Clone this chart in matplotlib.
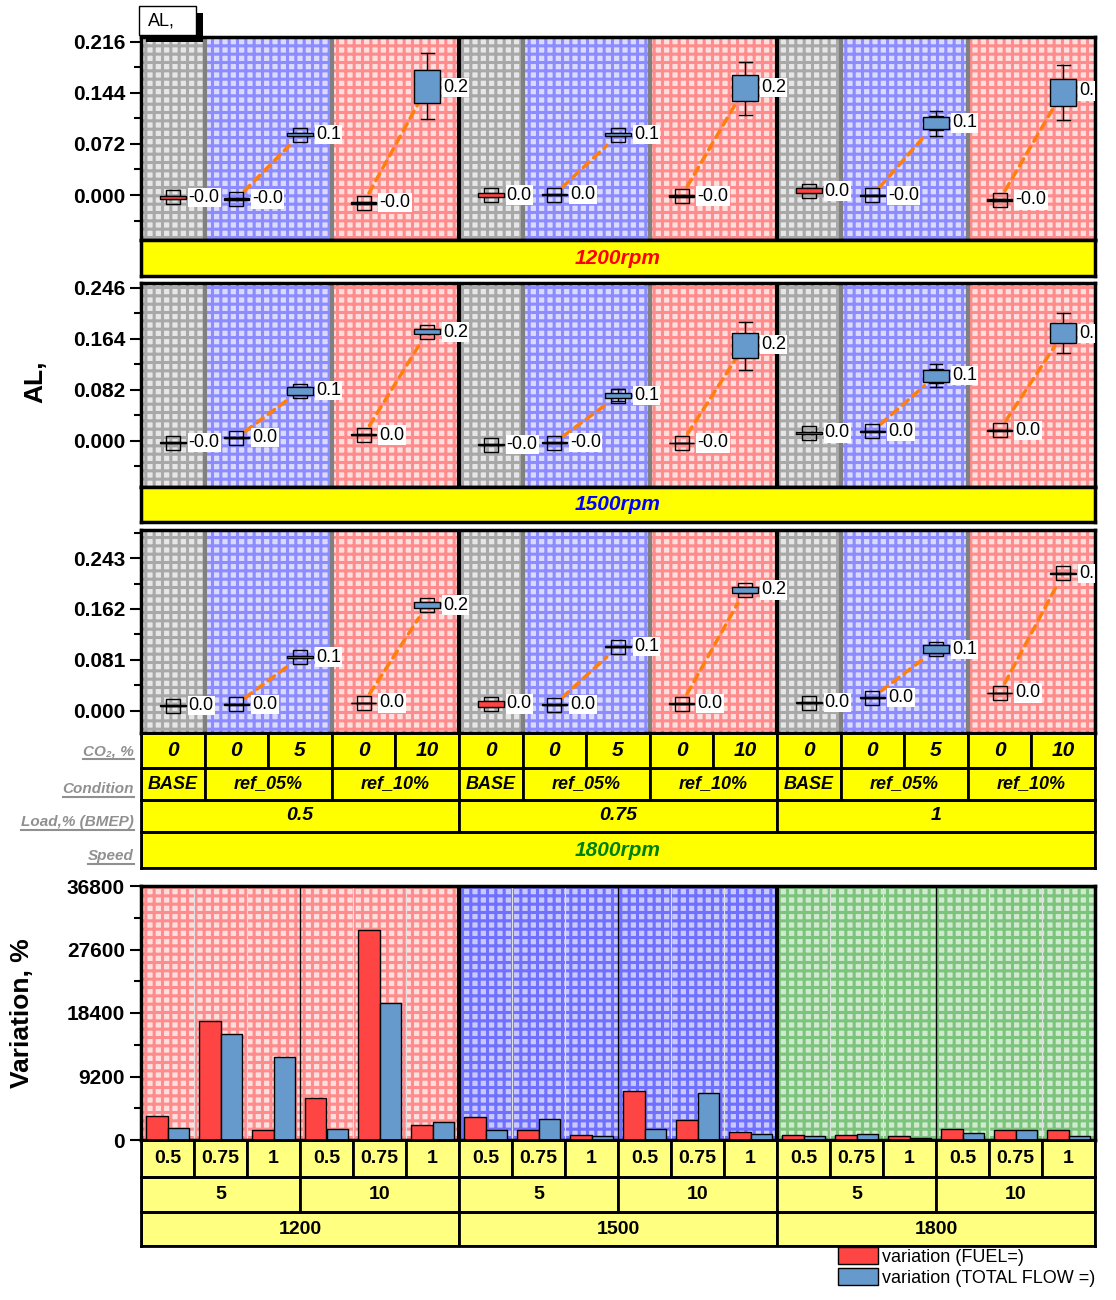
import numpy as np
import matplotlib.pyplot as plt
from matplotlib.patches import Rectangle, Patch
from matplotlib.lines import Line2D
from matplotlib.ticker import AutoMinorLocator

plt.rcParams['font.family'] = ['Liberation Sans', 'DejaVu Sans']
plt.rcParams['hatch.linewidth'] = 2.2

W, H = 1116, 1300

# categories
speeds = ['1200rpm', '1500rpm', '1800rpm']
speed_colors = ['#ff0000', '#0000ff', '#008000']
loads = ['0.5', '0.75', '1']
conditions = ['BASE', 'ref_05%', 'ref_10%']
cond_cols = [1, 2, 2]
co2_levels = ['0', '0', '5', '0', '10']

# AL, box stats: per speed, 3 loads x 5 columns
al_mean = [
    [-0.003, -0.0056, 0.085, -0.011, 0.152, 0.000, 0.0005, 0.085, -0.0015, 0.152, 0.0056, -0.0005, 0.1017, -0.007, 0.1468],
    [-0.003, 0.005, 0.081, 0.0096, 0.1752, -0.006, -0.0027, 0.0729, -0.0032, 0.1555, 0.0129, 0.0156, 0.105, 0.0172, 0.1732],
    [0.0084, 0.0106, 0.0857, 0.0127, 0.1683, 0.0111, 0.010, 0.1021, 0.0116, 0.1922, 0.0132, 0.0212, 0.098, 0.0286, 0.2186],
]
al_q1 = [
    [-0.005, -0.007, 0.083, -0.012, 0.130, -0.003, -0.0005, 0.083, -0.003, 0.133, 0.003, -0.0015, 0.093, -0.008, 0.1257],
    [-0.004, 0.004, 0.074, 0.009, 0.1716, -0.007, -0.0035, 0.0691, -0.004, 0.133, 0.012, 0.0145, 0.0954, 0.0165, 0.157],
    [0.0075, 0.0098, 0.0848, 0.012, 0.163, 0.0059, 0.0093, 0.101, 0.011, 0.1869, 0.0124, 0.0204, 0.0916, 0.028, 0.2176],
]
al_q3 = [
    [-0.001, -0.004, 0.087, -0.010, 0.1765, 0.003, 0.0015, 0.087, 0.000, 0.169, 0.0099, 0.0005, 0.110, -0.006, 0.1638],
    [-0.002, 0.006, 0.0868, 0.0105, 0.1796, -0.005, -0.002, 0.0772, -0.0025, 0.1732, 0.0138, 0.0165, 0.1142, 0.018, 0.1893],
    [0.0093, 0.0114, 0.0866, 0.0134, 0.1736, 0.0164, 0.0108, 0.1032, 0.0122, 0.1974, 0.014, 0.022, 0.1048, 0.0292, 0.2196],
]
al_lo = [
    [-0.005, -0.007, 0.083, -0.012, 0.107, -0.003, -0.0005, 0.083, -0.003, 0.113, 0.003, -0.0015, 0.0833, -0.008, 0.106],
    [-0.004, 0.004, 0.074, 0.009, 0.1716, -0.007, -0.0035, 0.0648, -0.004, 0.1142, 0.012, 0.0145, 0.0863, 0.0165, 0.141],
    al_q1[2],
]
al_hi = [
    [-0.001, -0.004, 0.087, -0.010, 0.2005, 0.003, 0.0015, 0.087, 0.000, 0.188, 0.0099, 0.0005, 0.1186, -0.006, 0.1836],
    [-0.002, 0.006, 0.0868, 0.0105, 0.1796, -0.005, -0.002, 0.0836, -0.0025, 0.1918, 0.0138, 0.0165, 0.1233, 0.018, 0.2054],
    al_q3[2],
]
al_ylim = [(-0.0635, 0.223), (-0.074, 0.254), (-0.035, 0.2875)]
al_step = [0.072, 0.082, 0.081]

# bottom bars: speed x co2 (5,10) x load
bar_speeds = ['1200', '1500', '1800']
bar_co2 = ['5', '10']
fuel_var = [3470, 17230, 1450, 6080, 30400, 2170,
            3330, 1450, 720, 7090, 2890, 1160,
            720, 720, 580, 1590, 1450, 1450]
flow_var = [1740, 15350, 12020, 1590, 19830, 2600,
            1450, 3040, 580, 1590, 6850, 870,
            580, 870, 290, 1010, 1450, 580]

fig = plt.figure(figsize=(W / 100, H / 100), dpi=100)


def px_axes(x0, y0, x1, y1):
    return fig.add_axes([x0 / W, 1 - y1 / H, (x1 - x0) / W, (y1 - y0) / H])


def clean(ax, lw=2.5):
    ax.set_xticks([])
    ax.set_yticks([])
    for s in ax.spines.values():
        s.set_linewidth(lw)


def cell_row(ax, spans, labels, n, fc, style='italic', color='black', fs=14):
    ax.set_xlim(0, n)
    ax.set_ylim(0, 1)
    clean(ax, 2)
    x = 0
    for sp, lab in zip(spans, labels):
        ax.add_patch(Rectangle((x, 0), sp, 1, fc=fc, ec='black', lw=2))
        ax.text(x + sp / 2, 0.5, lab, ha='center', va='center', fontsize=fs,
                fontweight='bold', style=style, color=color)
        x += sp


bg_cond = [('#e6e6e6', '#a8a8a8'), ('#dadaff', '#8c8cff'), ('#ffdede', '#ff8c8c')]
col_cond = [0, 1, 1, 2, 2]
box_fill = ['#ff4444', 'none', '#6699cc', 'none', '#6699cc']

panel_px = [(37, 240), (283, 487), (530, 733)]
for k in range(3):
    y0, y1 = panel_px[k]
    ax = px_axes(141, y0, 1095, y1)
    ax.set_xlim(0, 15)
    ax.set_ylim(*al_ylim[k])
    for l in range(3):
        for c in range(5):
            fc, hc = bg_cond[col_cond[c]]
            ax.axvspan(l * 5 + c, l * 5 + c + 1, facecolor=fc, edgecolor=hc,
                       hatch='++', lw=0, zorder=0)
        ax.axvline(l * 5 + 1, color='#808080', lw=3, zorder=1)
        ax.axvline(l * 5 + 3, color='#808080', lw=3, zorder=1)
        if l > 0:
            ax.axvline(l * 5, color='black', lw=3, zorder=1)

    pos = [l * 5 + c + 0.5 for l in range(3) for c in range(5)]
    stats = []
    for i in range(15):
        stats.append(dict(med=al_mean[k][i], mean=al_mean[k][i], q1=al_q1[k][i],
                          q3=al_q3[k][i], whislo=al_lo[k][i], whishi=al_hi[k][i], fliers=[]))
    bp = ax.bxp(stats, positions=pos, widths=0.4, capwidths=0.2, patch_artist=True,
                showmeans=True, manage_ticks=False,
                boxprops=dict(edgecolor='black', lw=1),
                medianprops=dict(color='black', lw=1),
                whiskerprops=dict(color='black', lw=1),
                capprops=dict(color='black', lw=1),
                meanprops=dict(marker='s', markersize=9.5, markerfacecolor='none',
                               markeredgecolor='black', markeredgewidth=1))
    for i, b in enumerate(bp['boxes']):
        b.set_facecolor(box_fill[i % 5])
        b.set_zorder(3)
    for i in range(15):
        ax.text(pos[i] + 0.25, al_mean[k][i], f'{al_mean[k][i]:.1f}', ha='left', va='center',
                fontsize=13, zorder=6, clip_on=True,
                bbox=dict(fc='white', ec='none', pad=0.8))
    for l in range(3):
        for a, b in [(1, 2), (3, 4)]:
            ia, ib = l * 5 + a, l * 5 + b
            ax.annotate('', xy=(pos[ib], al_mean[k][ib]), xytext=(pos[ia], al_mean[k][ia]),
                        arrowprops=dict(arrowstyle='-', color='#ff7f0e', lw=2.5,
                                        linestyle=(0, (2.3, 1.8)), shrinkA=8, shrinkB=11),
                        zorder=2)

    st = al_step[k]
    ticks = [0, st, 2 * st, 3 * st]
    ax.set_xticks([])
    ax.set_yticks(ticks, labels=[f'{t:.3f}' for t in ticks], fontsize=15, fontweight='bold')
    ax.yaxis.set_minor_locator(AutoMinorLocator(2))
    ax.tick_params(axis='y', which='major', length=8, width=1.5, direction='out')
    ax.tick_params(axis='y', which='minor', length=5, width=1.5, direction='out')
    for s in ax.spines.values():
        s.set_linewidth(2.5)

    if k < 2:
        band = px_axes(141, y1, 1095, y1 + 36 if k == 0 else y1 + 35)
        band.set_facecolor('#ffff00')
        clean(band)
        band.text(0.5, 0.5, speeds[k], transform=band.transAxes, ha='center', va='center',
                  fontsize=15, fontweight='bold', style='italic', color=speed_colors[k])

# table under the third panel
rows_px = [(733, 768), (768, 800), (800, 832), (832, 868)]
cell_row(px_axes(141, rows_px[0][0], 1095, rows_px[0][1]),
         [1] * 15, co2_levels * 3, 15, '#ffff00', fs=15)
cell_row(px_axes(141, rows_px[1][0], 1095, rows_px[1][1]),
         cond_cols * 3, conditions * 3, 15, '#ffff00', fs=13)
cell_row(px_axes(141, rows_px[2][0], 1095, rows_px[2][1]),
         [5, 5, 5], loads, 15, '#ffff00', fs=14)
cell_row(px_axes(141, rows_px[3][0], 1095, rows_px[3][1]),
         [15], [speeds[2]], 15, '#ffff00', color=speed_colors[2], fs=15)

row_names = ['CO₂, %', 'Condition', 'Load,% (BMEP)', 'Speed']
row_y = [751, 789, 822, 856]
row_texts = []
for name, yy in zip(row_names, row_y):
    row_texts.append(fig.text(134 / W, 1 - yy / H, name, ha='right', va='center',
                              fontsize=11, fontweight='bold', style='italic', color='#909090'))

# bars
axb = px_axes(141, 886, 1095, 1140)
n = len(fuel_var)
axb.set_xlim(0, n)
axb.set_ylim(0, 36800)
bg_speed = [('#ffdede', '#ff8c8c'), ('#c8c8ff', '#7070ff'), ('#cfeacf', '#7cc47c')]
for s in range(3):
    fc, hc = bg_speed[s]
    axb.axvspan(s * 6, s * 6 + 6, facecolor=fc, edgecolor=hc, hatch='++', lw=0, zorder=0)
for g in range(1, n):
    axb.axvline(g, color='#e0e0e0', lw=0.8, zorder=1)
for g in [3, 9, 15]:
    axb.axvline(g, color='black', lw=1, zorder=1)
for g in [6, 12]:
    axb.axvline(g, color='black', lw=3, zorder=1)
x = np.arange(n) + 0.5
axb.bar(x - 0.2, fuel_var, 0.4, color='#ff4444', edgecolor='black', lw=1, zorder=3)
axb.bar(x + 0.2, flow_var, 0.4, color='#6699cc', edgecolor='black', lw=1, zorder=3)
axb.set_xticks([])
bt = [0, 9200, 18400, 27600, 36800]
axb.set_yticks(bt, labels=[str(t) for t in bt], fontsize=15, fontweight='bold')
axb.yaxis.set_minor_locator(AutoMinorLocator(2))
axb.tick_params(axis='y', which='major', length=8, width=1.5)
axb.tick_params(axis='y', which='minor', length=5, width=1.5)
for s in axb.spines.values():
    s.set_linewidth(2.5)

cell_row(px_axes(141, 1140, 1095, 1177), [1] * n, loads * 6, n, '#ffff80', style='normal')
cell_row(px_axes(141, 1177, 1095, 1212), [3] * 6, bar_co2 * 3, n, '#ffff80', style='normal')
cell_row(px_axes(141, 1212, 1095, 1246), [6] * 3, bar_speeds, n, '#ffff80', style='normal')

fig.legend([Patch(fc='#ff4444', ec='black'), Patch(fc='#6699cc', ec='black')],
           ['variation (FUEL=)', 'variation (TOTAL FLOW =)'],
           loc='upper left', bbox_to_anchor=(838 / W, 1 - 1247 / H), frameon=False,
           fontsize=13, handlelength=2.2, handleheight=1.1, labelspacing=0.12,
           handletextpad=0.25, borderpad=0, borderaxespad=0)

# axis titles
fig.text(35 / W, 1 - 382 / H, 'AL,', rotation=90, ha='center', va='center',
         fontsize=19, fontweight='bold')
fig.text(22 / W, 1 - 1013 / H, 'Variation, %', rotation=90, ha='center', va='center',
         fontsize=19, fontweight='bold')

# "AL," tag box with shadow
fig.add_artist(Rectangle((146 / W, 1 - 42 / H), 57 / W, 29 / H, transform=fig.transFigure,
                         fc='black', ec='none', zorder=10))
fig.add_artist(Rectangle((139 / W, 1 - 35 / H), 57 / W, 29 / H, transform=fig.transFigure,
                         fc='white', ec='black', lw=1, zorder=11))
fig.text(148 / W, 1 - 21 / H, 'AL,', ha='left', va='center', fontsize=13, zorder=12)

# underline row names
fig.canvas.draw()
r = fig.canvas.get_renderer()
for t in row_texts:
    bb = t.get_window_extent(r)
    fig.add_artist(Line2D([bb.x0 / W, bb.x1 / W], [(bb.y0 - 1) / H] * 2,
                          transform=fig.transFigure, color='#909090', lw=1.5))

fig.savefig('out.png', dpi=100)
